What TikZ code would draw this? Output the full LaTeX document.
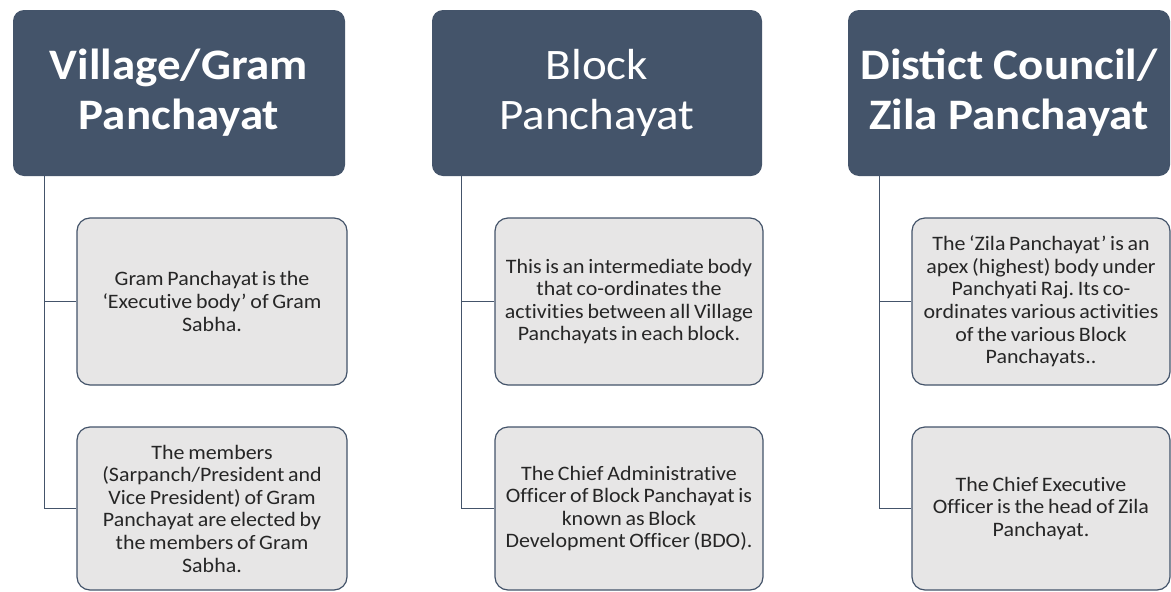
\documentclass[tikz,border=0pt]{standalone}
\usepackage{fontspec}
\setmainfont{Carlito}
\newfontfamily\hdrfont[FakeStretch=1.08]{Carlito}
\newfontfamily\chfont[FakeStretch=1.07, WordSpace=0.75, RawFeature={-liga;-clig;-calt;-dlig}]{Carlito}
\frenchspacing
\definecolor{hdr}{HTML}{44546A}
\definecolor{cfill}{HTML}{E7E6E6}
\tikzset{
  hdrbox/.style={draw=none, fill=hdr, rounded corners=11pt, text=white, align=center,
    inner sep=0pt, font=\hdrfont\fontsize{43.5}{50}\selectfont},
  childbox/.style={draw=hdr, line width=1.2pt, fill=cfill, rounded corners=13pt, align=center,
    inner sep=0pt, text=black!85, font=\chfont\fontsize{20.5}{22.6}\selectfont},
  conn/.style={draw=hdr, line width=1.3pt}
}
\begin{document}
\begin{tikzpicture}[x=1pt,y=-1pt]
\useasboundingbox[fill=white] (0,0) rectangle (1171,592);
% headers
\node[hdrbox, minimum width=332pt, minimum height=166pt] (h1) at (179,93) {\bfseries Village/Gram\\\bfseries Panchayat};
\node[hdrbox, minimum width=330pt, minimum height=166pt] (h2) at (597,93) {Block\\Panchayat};
\node[hdrbox, minimum width=322pt, minimum height=166pt] (h3) at (1009,93) {\bfseries Distict Council/\\\bfseries Zila Panchayat};
% children
\node[childbox, minimum width=270pt, minimum height=167pt] (c11) at (212,301.5)
  {Gram Panchayat is the\\‘Executive body’ of Gram\\Sabha.};
\node[childbox, minimum width=270pt, minimum height=163pt] (c12) at (212,508.5)
  {The members\\(Sarpanch/President and\\Vice President) of Gram\\Panchayat are elected by\\the members of Gram\\Sabha.};
\node[childbox, minimum width=268pt, minimum height=167pt] (c21) at (629,301.5)
  {This is an intermediate body\\that co-ordinates the\\activities between all Village\\Panchayats in each block.};
\node[childbox, minimum width=268pt, minimum height=163pt] (c22) at (629,508.5)
  {The Chief Administrative\\Officer of Block Panchayat is\\known as Block\\Development Officer (BDO).};
\node[childbox, minimum width=258pt, minimum height=167pt] (c31) at (1041,301.5)
  {The ‘Zila Panchayat’ is an\\apex (highest) body under\\Panchyati Raj. Its co-\\ordinates various activities\\of the various Block\\Panchayats..};
\node[childbox, minimum width=258pt, minimum height=163pt] (c32) at (1041,508.5)
  {The Chief Executive\\Officer is the head of Zila\\Panchayat.};
% connectors
\draw[conn] (h1.south west) ++(32,0) |- (c11.west);
\draw[conn] (h1.south west) ++(32,0) |- (c12.west);
\draw[conn] (h2.south west) ++(30,0) |- (c21.west);
\draw[conn] (h2.south west) ++(30,0) |- (c22.west);
\draw[conn] (h3.south west) ++(32,0) |- (c31.west);
\draw[conn] (h3.south west) ++(32,0) |- (c32.west);
\end{tikzpicture}
\end{document}
